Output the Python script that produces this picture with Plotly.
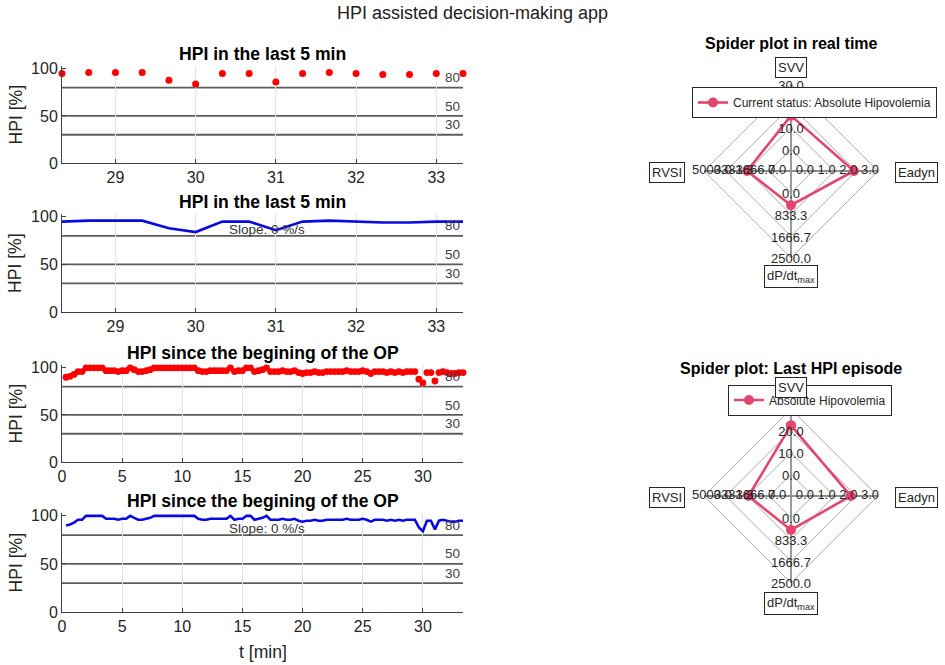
import math
import plotly.graph_objects as go

# ---------------- data ----------------
sample_step_min = 20 / 60          # one HPI sample every 20 s
hpi = [90, 91, 93, 96, 96, 100, 100, 100, 100, 100,
       97, 97, 97, 96, 97, 97, 100, 98, 96, 96,
       97, 98, 100, 100, 100, 100, 100, 100, 100, 100,
       100, 100, 100, 97, 96, 96, 97, 97, 97, 97,
       97, 100, 96, 97, 97, 100, 100, 96, 97, 98,
       100, 96, 96, 96, 97, 96, 96, 97, 95, 94,
       95, 95, 96, 95, 95, 96, 96, 96, 96, 96,
       97, 96, 96, 96, 97, 96, 94, 96, 96, 96,
       95, 96, 95, 96, 95, 96, 96, 96, 88, 84,
       95, 95, 86, 95, 96, 95, 94, 94, 95, 95]
t_min = [(k + 1) * sample_step_min for k in range(len(hpi))]
window_min = 5
thresholds = [80, 50, 30]
slope_text = "Slope: 0 %/s"

spider_axes = ["SVV", "Eadyn", "dP/dt<sub>max</sub>", "RVSI"]
spider_min = [0, 0, 0, 0]
spider_max = [30, 3, 2500, 5000]
realtime_values = [15.5, 1.9, 480, 1700]
episode_values = [22.5, 1.75, 470, 1600]
realtime_label = "Current status: Absolute Hipovolemia"
episode_label = "Absolute Hipovolemia"

# ---------------- layout helpers ----------------
W, H = 945, 665
FONT = "Liberation Sans, Arial, Helvetica, sans-serif"
TXT = "#262626"
SPIDER_COL = "#e2456d"

def fx(p):
    return p / W

def fy(p):
    return 1 - p / H

def ax_names(i):
    sfx = "" if i == 1 else str(i)
    return f"x{sfx}", f"y{sfx}", f"xaxis{sfx}", f"yaxis{sfx}"

fig = go.Figure()
shapes, annotations = [], []
layout = {}

t_end = t_min[-1]
last_idx = [i for i, t in enumerate(t_min) if t >= t_end - window_min - 1e-9]
t_last = [t_min[i] for i in last_idx]
hpi_last = [hpi[i] for i in last_idx]

panels = [
    dict(top=66, bottom=163, kind="dots", last=True, title="HPI in the last 5 min"),
    dict(top=214, bottom=312, kind="line", last=True, title="HPI in the last 5 min"),
    dict(top=365, bottom=462, kind="dots", last=False, title="HPI since the begining of the OP"),
    dict(top=513, bottom=612, kind="line", last=False, title="HPI since the begining of the OP"),
]
XL, XR = 62, 463

for i, p in enumerate(panels, start=1):
    xs = t_last if p["last"] else t_min
    ys = hpi_last if p["last"] else hpi
    xa, ya, xk, yk = ax_names(i)
    if p["kind"] == "dots":
        fig.add_trace(go.Scatter(x=xs, y=ys, mode="markers", xaxis=xa, yaxis=ya,
                                 marker=dict(color="#ff0000", size=7 if p["last"] else 6.8),
                                 showlegend=False, cliponaxis=False))
    else:
        fig.add_trace(go.Scatter(x=xs, y=ys, mode="lines", xaxis=xa, yaxis=ya,
                                 line=dict(color="#0a0ae0", width=2.6),
                                 showlegend=False))
    xr = [t_last[0], t_last[-1]] if p["last"] else [0, t_end]
    layout[xk] = dict(
        domain=[fx(XL), fx(XR)], anchor=ya, range=xr,
        dtick=1 if p["last"] else 5, tick0=0,
        showgrid=True, gridcolor="#e4e4e4", gridwidth=1, zeroline=False,
        showline=True, linecolor="#404040", linewidth=1,
        ticks="inside", ticklen=4, tickcolor="#404040",
        tickfont=dict(size=16, color=TXT, family=FONT))
    layout[yk] = dict(
        domain=[fy(p["bottom"]), fy(p["top"])], anchor=xa, range=[0, 103],
        tickvals=[0, 50, 100], showgrid=False, zeroline=False,
        showline=True, linecolor="#404040", linewidth=1,
        ticks="inside", ticklen=4, tickcolor="#404040",
        tickfont=dict(size=16, color=TXT, family=FONT))
    for th in thresholds:
        shapes.append(dict(type="line", xref=f"{xa} domain", yref=ya, x0=0, x1=1,
                           y0=th, y1=th, line=dict(color="#5c5c5c", width=1.8),
                           layer="below"))
        annotations.append(dict(xref=f"{xa} domain", yref=ya, x=0.974, y=th + 10.5,
                                text=str(th), showarrow=False, xanchor="center",
                                font=dict(size=13.5, color="#404040", family=FONT)))
    if p["kind"] == "line":
        annotations.append(dict(xref=f"{xa} domain", yref=ya, x=0.51, y=87,
                                text=slope_text, showarrow=False, xanchor="center",
                                font=dict(size=13.5, color="#333333", family=FONT)))
    annotations.append(dict(xref="paper", yref="paper", x=fx((XL + XR) / 2),
                            y=fy(p["top"] - 12), text=f"<b>{p['title']}</b>",
                            showarrow=False, xanchor="center", yanchor="middle",
                            font=dict(size=17.6, color="#000000", family=FONT)))
    annotations.append(dict(xref="paper", yref="paper", x=fx(15),
                            y=fy((p["top"] + p["bottom"]) / 2), text="HPI [%]",
                            textangle=-90, showarrow=False, xanchor="center", yanchor="middle",
                            font=dict(size=17.6, color=TXT, family=FONT)))

annotations.append(dict(xref="paper", yref="paper", x=fx((XL + XR) / 2), y=fy(652),
                        text="t [min]", showarrow=False, xanchor="center", yanchor="middle",
                        font=dict(size=17.6, color=TXT, family=FONT)))
annotations.append(dict(xref="paper", yref="paper", x=0.5, y=fy(13),
                        text="HPI assisted decision-making app", showarrow=False,
                        xanchor="center", yanchor="middle",
                        font=dict(size=18, color="#202020", family=FONT)))

# ---------------- spider plots ----------------
angles = [90, 0, 270, 180]
levels = [0.25, 0.5, 0.75, 1.0]

def spider_xy(values):
    xs, ys = [], []
    for v, lo, hi, a in zip(values, spider_min, spider_max, angles):
        r = levels[0] + (levels[-1] - levels[0]) * (v - lo) / (hi - lo)
        xs.append(r * math.cos(math.radians(a)))
        ys.append(r * math.sin(math.radians(a)))
    return xs + xs[:1], ys + ys[:1]

spiders = [
    dict(cy=171, values=realtime_values, name=realtime_label, title="Spider plot in real time",
         legend="legend", svv_y=1.19, dp_y=-1.22),
    dict(cy=496, values=episode_values, name=episode_label, title="Spider plot: Last HPI episode",
         legend="legend2", svv_y=1.25, dp_y=-1.24),
]
CX, HALF = 791, 139
for j, s in enumerate(spiders, start=5):
    xa, ya, xk, yk = ax_names(j)
    # rings
    for r in levels:
        rx = [r * math.cos(math.radians(a)) for a in angles]
        ry = [r * math.sin(math.radians(a)) for a in angles]
        fig.add_trace(go.Scatter(x=rx + rx[:1], y=ry + ry[:1], mode="lines", xaxis=xa, yaxis=ya,
                                 line=dict(color="#ababab", width=1), showlegend=False,
                                 hoverinfo="skip"))
    # spokes
    for a in angles:
        fig.add_trace(go.Scatter(x=[0, math.cos(math.radians(a))], y=[0, math.sin(math.radians(a))],
                                 mode="lines", xaxis=xa, yaxis=ya,
                                 line=dict(color="#8f8f8f", width=1.8), showlegend=False,
                                 hoverinfo="skip"))
    # data polygon
    px_, py_ = spider_xy(s["values"])
    fig.add_trace(go.Scatter(x=px_, y=py_, mode="lines+markers", xaxis=xa, yaxis=ya,
                             line=dict(color=SPIDER_COL, width=2.6),
                             marker=dict(color=SPIDER_COL, size=10),
                             name=s["name"], legend=s["legend"], showlegend=True,
                             cliponaxis=False))
    # ring value labels for each axis
    lx, ly, lt = [], [], []
    for lo, hi, a in zip(spider_min, spider_max, angles):
        for k, r in enumerate(levels):
            val = lo + (hi - lo) * k / (len(levels) - 1)
            c, sn = round(math.cos(math.radians(a))), round(math.sin(math.radians(a)))
            if c != 0:
                lx.append(c * (r - 0.09)); ly.append(0)
            else:
                lx.append(0); ly.append(sn * r - 0.027)
            lt.append(f"{val:.1f}")
    fig.add_trace(go.Scatter(x=lx, y=ly, text=lt, mode="text", xaxis=xa, yaxis=ya,
                             textfont=dict(size=13, color=TXT, family=FONT),
                             showlegend=False, hoverinfo="skip", cliponaxis=False))
    # axis name boxes
    box_pos = [(0, s["svv_y"]), (1.45, -0.02), (0, s["dp_y"]), (-1.43, -0.02)]
    for name, (bx, by) in zip(spider_axes, box_pos):
        annotations.append(dict(xref=xa, yref=ya, x=bx, y=by, text=name, showarrow=False,
                                bordercolor="#262626", borderwidth=1, borderpad=2,
                                bgcolor="white",
                                font=dict(size=13, color=TXT, family=FONT)))
    annotations.append(dict(xref=xa, yref=ya, x=0, y=1.47, text=f"<b>{s['title']}</b>",
                            showarrow=False, font=dict(size=16, color="#000000", family=FONT)))
    layout[xk] = dict(domain=[fx(CX - HALF), fx(CX + HALF)], anchor=ya,
                      range=[-1.6, 1.6], visible=False)
    layout[yk] = dict(domain=[fy(s["cy"] + HALF), fy(s["cy"] - HALF)], anchor=xa,
                      range=[-1.6, 1.6], visible=False)

legend_common = dict(xanchor="left", yanchor="middle", bgcolor="white",
                     bordercolor="#262626", borderwidth=1,
                     font=dict(size=12, color=TXT, family=FONT), itemwidth=30)
layout["legend"] = dict(x=fx(692), y=fy(102.5), **legend_common)
layout["legend2"] = dict(x=fx(728), y=fy(400), **legend_common)

fig.update_layout(
    width=W, height=H, margin=dict(l=0, r=0, t=0, b=0, autoexpand=False),
    paper_bgcolor="white", plot_bgcolor="white",
    font=dict(family=FONT, color=TXT),
    shapes=shapes, annotations=annotations, showlegend=True,
    **layout)

fig.write_html("out.html", config={"displayModeBar": False},
               post_script="document.body.style.margin='0';document.body.style.padding='0';")
